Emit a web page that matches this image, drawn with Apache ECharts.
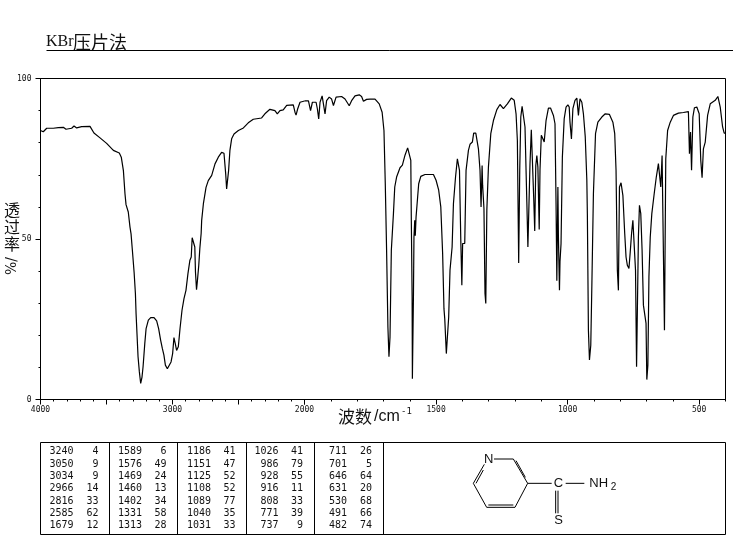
<!DOCTYPE html>
<html><head><meta charset="utf-8">
<style>html,body{margin:0;padding:0;background:#fff}#c{width:737px;height:539px}</style>
<script src="https://cdn.jsdelivr.net/npm/echarts@6/dist/echarts.min.js"></script>
</head><body><div id="c"></div>
<script>
// [wavenumber (cm-1), transmittance (%)]
const highRange = [[4000,83.8],[3979,83.4],[3953,84.5],[3903,84.5],[3865,84.7],[3827,84.8],[3807,84.2],[3764,84.5],[3746,85.2],[3726,84.6],[3688,85],[3625,85.1],[3595,83],[3549,81.5],[3499,79.8],[3448,77.6],[3403,76.8],[3388,75.5],[3372,71.3],[3360,64.1],[3352,60.7],[3335,58.4],[3322,53.7],[3314,51.6],[3304,46.5],[3291,39.7],[3281,33],[3276,26.8],[3269,20.5],[3261,13.3],[3251,8.6],[3241,5],[3231,7],[3223,10.2],[3210,17.4],[3200,22.1],[3183,24.7],[3165,25.5],[3140,25.5],[3120,24.5],[3105,22.1],[3090,18.5],[3077,15.9],[3065,13.8],[3054,10.7],[3039,9.6],[3027,9.6],[3011,11.7],[2999,14.3],[2989,19.3],[2979,17.4],[2969,15.3],[2956,16.4],[2943,22.1],[2928,27.8],[2913,31.4],[2898,34],[2883,39.2],[2868,43.4],[2858,44.4],[2851,50.4],[2841,50.6],[2831,47.5],[2826,39.7],[2818,34.2],[2811,37.1],[2801,41.8],[2793,47],[2783,51.7],[2779,55.8],[2766,61],[2746,66.1],[2729,68.2],[2703,69.8],[2678,73.4],[2653,75.5],[2628,77],[2610,76.7],[2597,70.3],[2590,65.6],[2582,66.2],[2575,71.3],[2565,77.6],[2552,81.2],[2534,82.7],[2501,83.8],[2463,84.6],[2426,86.2],[2388,87.3],[2325,87.7],[2300,89],[2262,90.4],[2224,90],[2206,89],[2186,90],[2161,90.2],[2135,91.6],[2085,91.8],[2072,89.5],[2064,88.6],[2052,90.5],[2034,92.6],[2000,93]];
const midRange = [[2000,93],[1985,93],[1977,90],[1970,92.6],[1956,92.6],[1951,90.5],[1946,87.4],[1941,92.6],[1933,94.6],[1926,94.2],[1922,89],[1916,93.1],[1906,94.2],[1897,93.6],[1890,91.6],[1880,94.2],[1859,94.4],[1846,93.6],[1830,91.5],[1821,93.1],[1808,94.6],[1792,94.9],[1783,94.4],[1776,92.9],[1764,93.5],[1751,93.6],[1732,93.6],[1716,92.1],[1705,89.5],[1698,83.8],[1693,67.2],[1688,46.5],[1683,22.6],[1679,13.3],[1675,19.5],[1670,46.5],[1662,57.9],[1657,66.2],[1650,69.3],[1637,72.2],[1628,73],[1618,76.1],[1608,78.4],[1601,78.1],[1596,74.5],[1594,55.8],[1591,32],[1590,6.5],[1586,32],[1584,50.6],[1581,55.8],[1579,51],[1576,56.9],[1570,63.1],[1566,67.2],[1558,69.5],[1542,70.1],[1510,70.1],[1500,68.3],[1490,65.2],[1482,60],[1475,45.4],[1470,28.3],[1467,25.2],[1463,25.2],[1461,14.3],[1457,14.3],[1452,25.7],[1447,40.3],[1439,47.5],[1434,61],[1426,69.3],[1419,75],[1415,75.5],[1411,71.4],[1406,49.6],[1402,35.6],[1399,48.6],[1391,48.6],[1386,71.4],[1377,77.6],[1371,79.5],[1362,80.2],[1357,83],[1349,83],[1339,78.1],[1333,71.4],[1329,60],[1325,72.9],[1323,66.7],[1318,59.5],[1314,33],[1311,29.9],[1307,59],[1301,72.4],[1292,82.8],[1282,86.9],[1269,90.3],[1257,91.9],[1244,90.6],[1229,92.1],[1214,93.9],[1203,93.2],[1196,89],[1191,80.7],[1186,42.5],[1182,71.4],[1178,88],[1173,91.3],[1167,91.6],[1162,84.9],[1155,61.5],[1151,47.5],[1143,73.5],[1138,84],[1133,84],[1129,63.1],[1125,52.5],[1121,72.9],[1117,76],[1113,72.4],[1108,53],[1105,71.4],[1100,82.3],[1094,81.2],[1089,80.2],[1082,86.9],[1073,90.8],[1065,90.8],[1054,88.5],[1048,85.9],[1044,61],[1041,37],[1037,66.2],[1035,50.6],[1031,34],[1029,42.9],[1025,48.6],[1020,75.5],[1013,87.5],[1006,91.1],[999,91.8],[994,91.1],[991,86.4],[985.5,81.2],[980,90.6],[972,93.2],[965,93.9],[959,88.5],[953,93.7],[946,92.6],[940,89],[933,81.8],[927,68.3],[925,57.9],[921,21.6],[917,12.3],[912,16.9],[908,35.1],[902,64.1],[894,82.8],[885,86.4],[870,88],[857,89],[841,88.8],[828,86.4],[821,82.8],[816,71.4],[811,40.3],[807,34],[803,66.2],[797,67.5],[790,63.6],[783,51.7],[778,44.4],[773,41.8],[767,40.8],[762,46],[757,51.7],[752,55.8],[746,55.8],[742,40.3],[738,10.2],[734,10.2],[731,50.6],[727,60.5],[722,57.9],[717,46.5],[712,29.4],[707,28.8],[702,23.7],[699,6.2],[695,10.7],[691,38.2],[686,50.6],[680,57.9],[671,64.1],[663,69.3],[655,73.5],[651,74],[646,66.2],[641,76],[637,76.6],[632,21.6],[629,21.1],[627,75],[620,83.8],[610,86.4],[598,88.5],[579,89.2],[560,89.4],[541,89.7],[537,76.6],[533,83.3],[529,71.4],[524,88],[518,90.9],[509,91.1],[500,89],[494,74.5],[489,69.1],[484,78.1],[477,80.2],[468,88.5],[458,92.1],[439,93.2],[429,94.4],[420,91.1],[411,84.9],[405,83],[400,83]];

const titleLatin = 'KBr';
const titleCjk = '压片法';
const yLabelChars = ['透','过','率'];
const yLabelUnit = '%/';
const xLabelCjk = '波数';
const xLabelUnit = '/cm';
const xLabelSup = '-1';
const leftTickLabels = [4000,3000,2000];
const rightTickLabels = [1500,1000,500];
const rightMajorTicks = [500,1000,1500,2000];
const yTickLabels = [0,50,100];

const peakColumns = [
  [['3240',4],['3050',9],['3034',9],['2966',14],['2816',33],['2585',62],['1679',12]],
  [['1589',6],['1576',49],['1469',24],['1460',13],['1402',34],['1331',58],['1313',28]],
  [['1186',41],['1151',47],['1125',52],['1108',52],['1089',77],['1040',35],['1031',33]],
  [['1026',41],['986',79],['928',55],['916',11],['808',33],['771',39],['737',9]],
  [['711',26],['701',5],['646',64],['631',20],['530',68],['491',66],['482',74]]
];

// layout
const X0=40.5, XM=304.5, X1=725.5, Y0=78.5, Y1=399.5;
const MONO='"DejaVu Sans Mono", monospace';
const SERIF='"Noto Sans CJK SC", serif';
const g=[];
const line=(x1,y1,x2,y2,w)=>g.push({type:'line',silent:true,shape:{x1,y1,x2,y2},style:{stroke:'#000',lineWidth:w||1}});
const txt=(x,y,text,font,align,rot)=>g.push({type:'text',silent:true,x,y,rotation:rot||0,style:{text,font,fill:'#111',align:align||'center',verticalAlign:'middle'}});

// title + rule
txt(46,42,titleLatin,'16px "Liberation Serif", serif','left');
txt(73,42,titleCjk,'18px '+SERIF,'left');
line(46.5,50.5,733,50.5,1);

// plot frame top/right
line(X0,Y0,X1,Y0,1.2);
line(X1,Y0,X1,Y1,1);

// y title
yLabelChars.forEach((c,i)=>txt(12,[210,227,244][i],c,'16px '+SERIF));
txt(12,266,yLabelUnit,'14px "DejaVu Serif", serif','center',Math.PI/2);

// x title
txt(338,417,xLabelCjk,'17px '+SERIF,'left');
txt(374,417,xLabelUnit,'16px "Liberation Sans", sans-serif','left');
txt(401,412,xLabelSup,'9px '+MONO,'left');

// table
const tTop=442.5,tBot=534.5,tL=40.5,tR=725.5;
g.push({type:'rect',silent:true,shape:{x:tL,y:tTop,width:tR-tL,height:tBot-tTop},style:{fill:'none',stroke:'#000',lineWidth:1}});
[109.5,177.5,246.5,314.5,383.5].forEach(x=>line(x,tTop,x,tBot,1));
const colWn=[73.5,142,211,278.5,347], colT=[98.5,166.5,235.5,303,372];
peakColumns.forEach((col,i)=>col.forEach((r,j)=>{
  const y=451.7+j*12.33;
  txt(colWn[i],y,r[0],'10px '+MONO,'right');
  txt(colT[i],y,String(r[1]),'10px '+MONO,'right');
}));

// structure
const P=(zx,zy)=>[400+zx/3,430+zy/3];
const bond=(a,b,c,d)=>{const p=P(a,b),q=P(c,d);line(p[0],p[1],q[0],q[1],1);};
bond(282,87,340,87); bond(340,87,383,160); bond(348,92,376,142);
bond(383,160,345,232); bond(345,232,260,232); bond(340,225,265,225);
bond(260,232,220,160); bond(220,160,253,103); bond(228,160,250,120);
bond(383,160,455,160); bond(497,160,553,160);
bond(467,182,467,250); bond(474,182,474,250);
const S='13px "Liberation Sans", sans-serif';
txt(...P(266,87),'N',S); txt(...P(475,160),'C',S); txt(...P(476,272),'S',S);
txt(...P(568,160),'NH','13px "Liberation Sans", sans-serif','left');
txt(...P(632,172),'2','10px "Liberation Sans", sans-serif','left');

const xBase=(min,max)=>({type:'value',min,max,inverse:true,position:'bottom',splitLine:{show:false},
  axisLine:{show:true,onZero:false,lineStyle:{color:'#000',width:1}}});
const lbl={color:'#111',fontFamily:MONO,fontSize:8,margin:6,formatter:v=>String(v)};
const grid0={left:X0,top:Y0,width:XM-X0,height:Y1-Y0}, grid1={left:XM,top:Y0,width:X1-XM,height:Y1-Y0};
const yBase=(extra)=>Object.assign({type:'value',min:0,max:100,interval:50,splitLine:{show:false},
  axisLine:{show:true,lineStyle:{color:'#000',width:1}}},extra);

const option={
  animation:false,backgroundColor:'#fff',
  grid:[grid0,grid1],
  xAxis:[
    Object.assign(xBase(2000,4000),{gridIndex:0,interval:500,
      axisTick:{show:true,length:5,lineStyle:{color:'#000'}},
      minorTick:{show:true,splitNumber:5,length:2,lineStyle:{color:'#000'}},
      axisLabel:Object.assign({customValues:leftTickLabels},lbl)}),
    Object.assign(xBase(400,2000),{gridIndex:1,interval:100,
      axisTick:{show:true,length:2,lineStyle:{color:'#000'}},
      axisLabel:Object.assign({customValues:rightTickLabels},lbl)}),
    Object.assign(xBase(400,2000),{gridIndex:1,interval:100,
      axisLine:{show:false},
      axisTick:{show:true,length:5,customValues:rightMajorTicks,lineStyle:{color:'#000'}},
      axisLabel:{show:false}})
  ],
  yAxis:[
    yBase({gridIndex:0,
      axisTick:{show:true,length:5,lineStyle:{color:'#000'}},
      minorTick:{show:true,splitNumber:5,length:2,lineStyle:{color:'#000'}},
      axisLabel:{customValues:yTickLabels,color:'#111',fontFamily:MONO,fontSize:8,margin:9}}),
    yBase({gridIndex:1,axisLine:{show:false},axisTick:{show:false},axisLabel:{show:false}})
  ],
  series:[
    {type:'line',xAxisIndex:0,yAxisIndex:0,data:highRange,showSymbol:false,silent:true,lineStyle:{color:'#000',width:1.2}},
    {type:'line',xAxisIndex:1,yAxisIndex:1,data:midRange,showSymbol:false,silent:true,lineStyle:{color:'#000',width:1.2}}
  ],
  graphic:{elements:g}
};
echarts.init(document.getElementById('c'),null,{renderer:'canvas'}).setOption(option);
</script></body></html>
